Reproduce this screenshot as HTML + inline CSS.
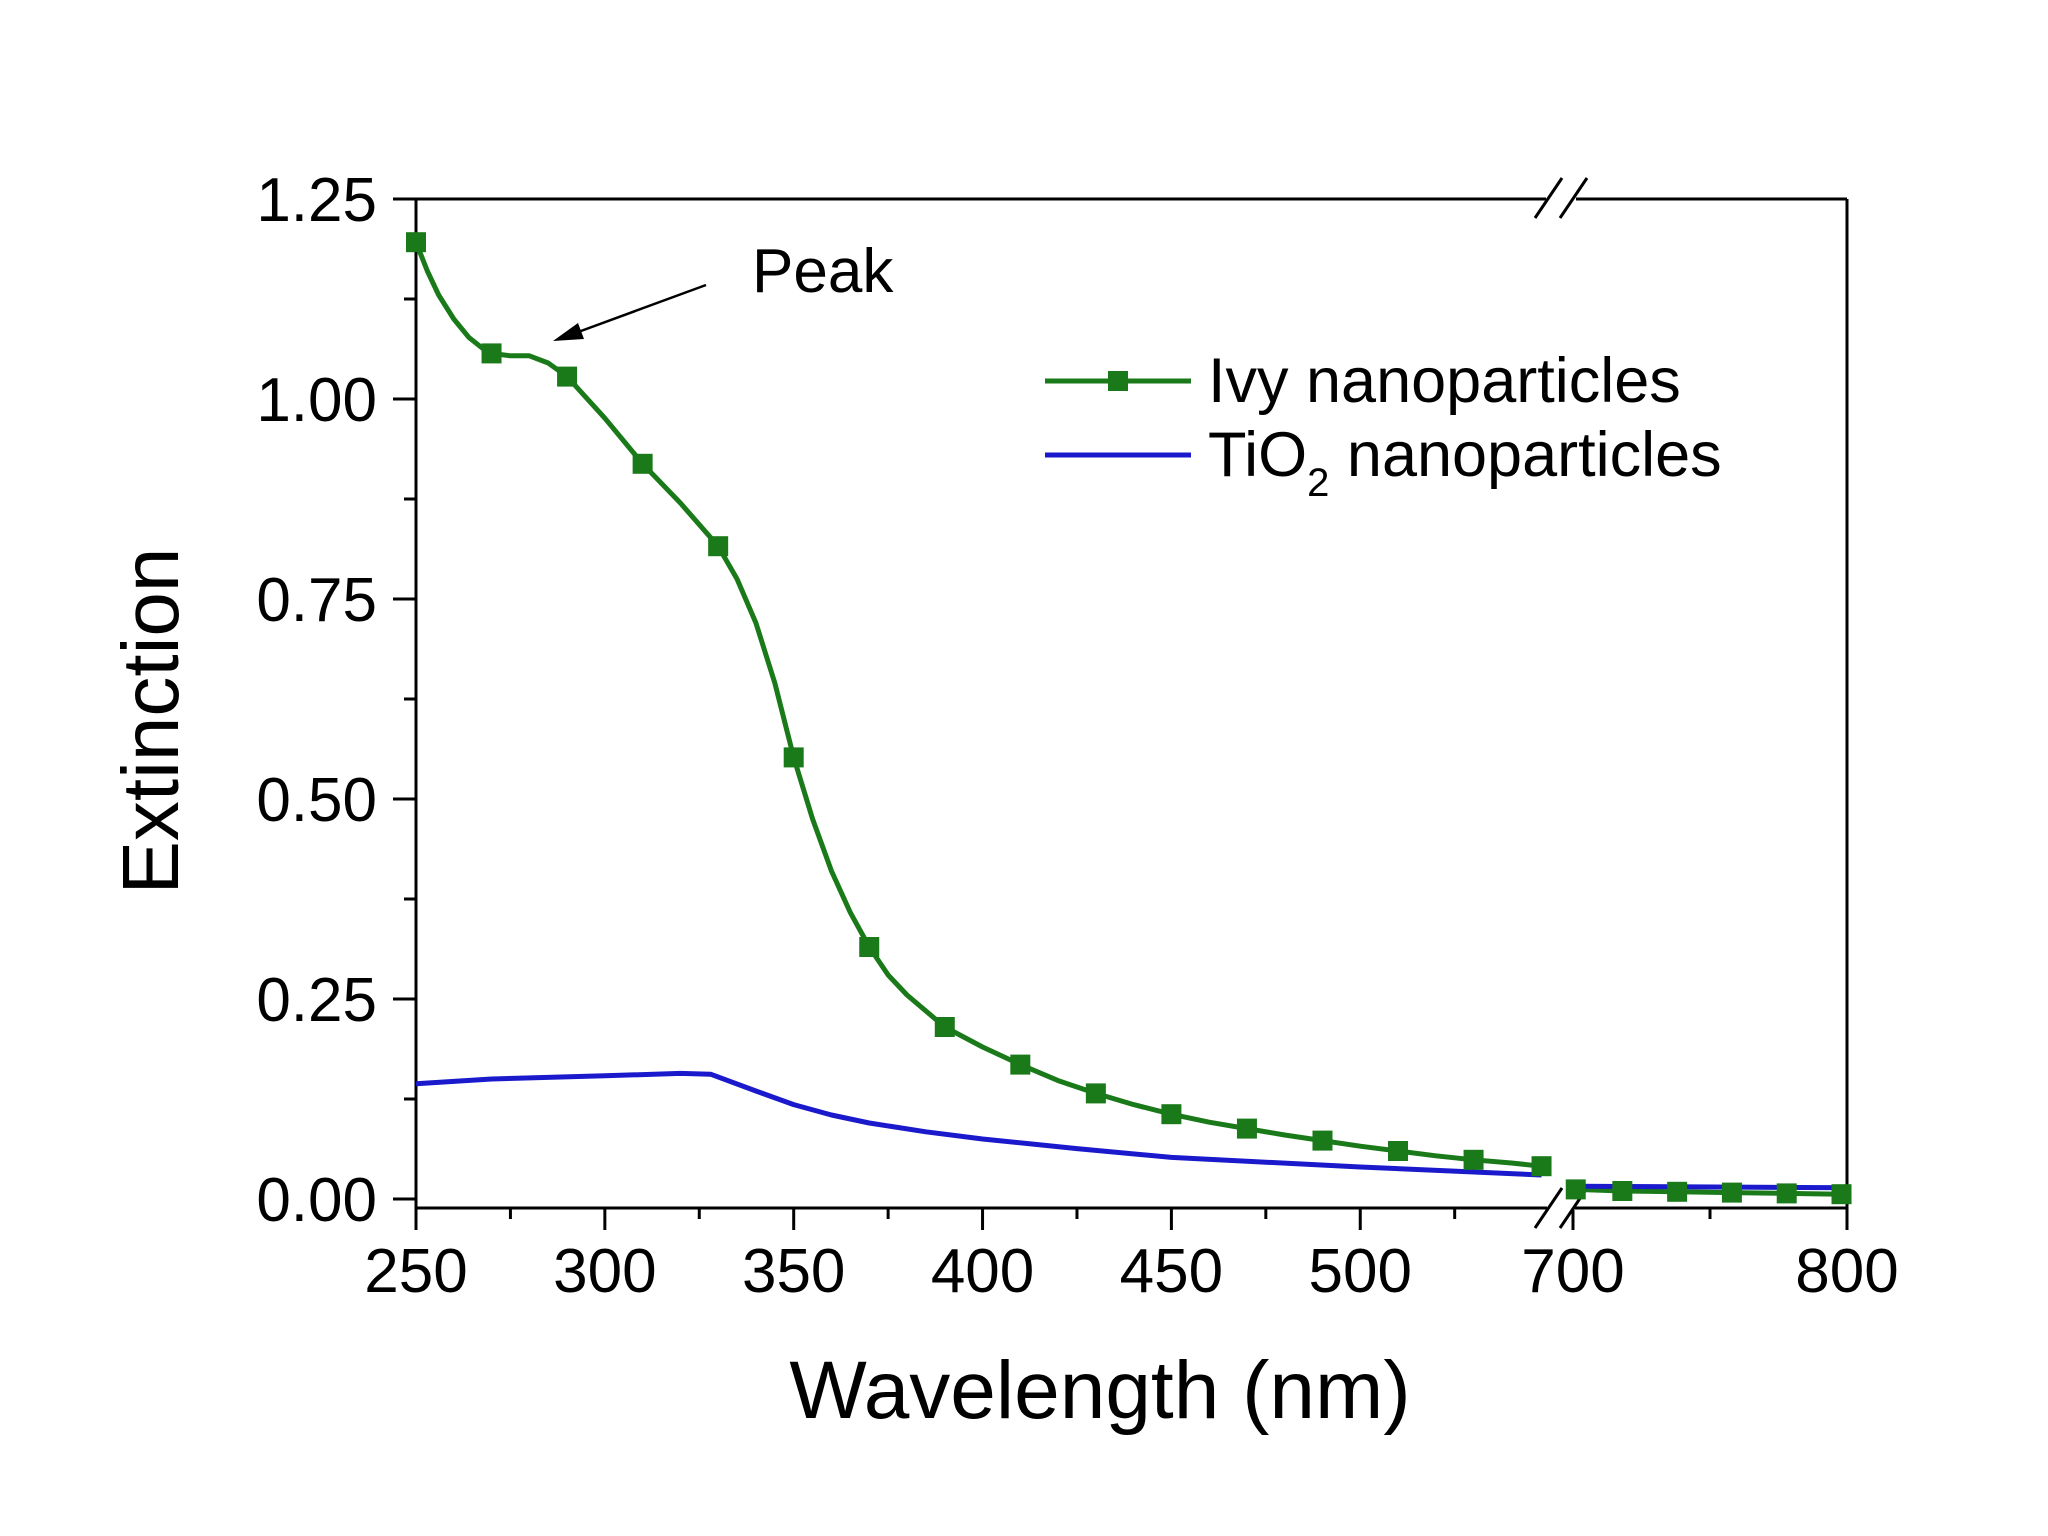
<!DOCTYPE html>
<html><head><meta charset="utf-8"><style>
html,body{margin:0;padding:0;background:#fff}
svg{display:block;font-family:"Liberation Sans",Arial,sans-serif}
</style></head><body>
<svg id="chart" width="2048" height="1536" viewBox="0 0 2048 1536">
<g id="axes"></g>
<g id="series"></g>
<text x="157" y="721" font-size="80" text-anchor="middle" dominant-baseline="middle" transform="rotate(-90 157 721)">Extinction</text>
<text x="1100" y="1418" font-size="82" text-anchor="middle">Wavelength (nm)</text>
<text x="752" y="292" font-size="62">Peak</text>
<g>
<line x1="706" y1="285" x2="570" y2="335" stroke="#000" stroke-width="2.5"/>
<polygon points="553,341 578,323 584,339" fill="#000"/>
</g>
<g>
<g>
<line x1="1045" y1="381" x2="1191" y2="381" stroke="#1a7a1a" stroke-width="5"/>
<rect x="1108" y="371" width="20" height="20" fill="#1a7a1a"/>
<text x="1208" y="402" font-size="63">Ivy nanoparticles</text>
</g>
<g>
<line x1="1045" y1="455" x2="1191" y2="455" stroke="#1a1acc" stroke-width="5"/>
<text x="1208" y="476" font-size="63">TiO<tspan font-size="40" dy="20">2</tspan><tspan dy="-20"> nanoparticles</tspan></text>
</g>
</g>
</svg>
<script>
const ivyX = [250,253,256,260,264,268,270,275,280,285,290,300,310,320,330,335,340,345,350,355,360,365,370,375,380,390,400,410,420,430,440,450,460,470,480,490,500,510,520,530,540,548];
const ivyY = [1.196,1.16,1.13,1.10,1.077,1.062,1.057,1.054,1.054,1.045,1.028,0.976,0.919,0.87,0.816,0.775,0.72,0.645,0.552,0.475,0.41,0.358,0.315,0.28,0.255,0.215,0.19,0.168,0.148,0.132,0.118,0.106,0.096,0.088,0.080,0.073,0.066,0.060,0.054,0.049,0.045,0.041];
const ivyMarkX = [250,270,290,310,330,350,370,390,410,430,450,470,490,510,530,548];
const ivyRX = [701,718,738,758,778,798,800];
const ivyRY = [0.012,0.010,0.009,0.008,0.007,0.006,0.006];
const tioX = [250,270,300,320,328,340,350,360,370,385,400,425,450,500,548];
const tioY = [0.144,0.150,0.154,0.157,0.156,0.135,0.118,0.105,0.095,0.084,0.075,0.063,0.052,0.040,0.030];
const tioRX = [701,800];
const tioRY = [0.016,0.014];
const yTicks = [0,0.25,0.5,0.75,1.0,1.25];
const yLabels = ["0.00","0.25","0.50","0.75","1.00","1.25"];
const xTicksL = [250,300,350,400,450,500];
const xTicksR = [700,800];

const NS="http://www.w3.org/2000/svg";
function xL(v){return 416+(v-250)*3.777;}
function xR(v){return 1573+(v-700)*2.74;}
function xs(v){return v>=650?xR(v):xL(v);}
function ys(v){return 1199-v*800;}
function mk(tag,attrs,parent){const e=document.createElementNS(NS,tag);for(const k in attrs)e.setAttribute(k,attrs[k]);parent.appendChild(e);return e;}
const axes=document.getElementById('axes'),ser=document.getElementById('series');
const K={stroke:'#000','stroke-width':3};
let e;
e=mk('line',Object.assign({x1:416,y1:199,x2:416,y2:1208},K),axes);
e=mk('line',Object.assign({x1:416,y1:1208,x2:1547,y2:1208},K),axes);
e=mk('line',Object.assign({x1:1575,y1:1208,x2:1847,y2:1208},K),axes);
e=mk('line',Object.assign({x1:416,y1:199,x2:1546,y2:199},K),axes);
e=mk('line',Object.assign({x1:1576,y1:199,x2:1847,y2:199},K),axes);
e=mk('line',Object.assign({x1:1847,y1:199,x2:1847,y2:1208},K),axes);
[[1535,218,1562,178],[1560,218,1587,178],[1535,1228,1562,1188],[1560,1228,1587,1188]].forEach(p=>{
 const b=mk('line',{x1:p[0],y1:p[1],x2:p[2],y2:p[3],stroke:'#000','stroke-width':3},axes);
 
 
});
yTicks.forEach((v,i)=>{
 const t=mk('line',{x1:393,y1:ys(v),x2:416,y2:ys(v),stroke:'#000','stroke-width':3},axes);
 
 
 if(i<yTicks.length-1){const m=mk('line',{x1:404,y1:ys(v+0.125),x2:416,y2:ys(v+0.125),stroke:'#000','stroke-width':3},axes);
 
 }
 const l=mk('text',{x:377,y:ys(v)+22,'font-size':62,'text-anchor':'end'},axes);l.textContent=yLabels[i];
 
 
});
xTicksL.forEach(v=>{
 const t=mk('line',{x1:xL(v),y1:1208,x2:xL(v),y2:1230,stroke:'#000','stroke-width':3},axes);
 
 
 const m=mk('line',{x1:xL(v+25),y1:1208,x2:xL(v+25),y2:1219,stroke:'#000','stroke-width':3},axes);
 
 
 const l=mk('text',{x:xL(v),y:1292,'font-size':62,'text-anchor':'middle'},axes);l.textContent=v;
 
 
});
xTicksR.forEach(v=>{
 const t=mk('line',{x1:xR(v),y1:1208,x2:xR(v),y2:1230,stroke:'#000','stroke-width':3},axes);
 
 
 const l=mk('text',{x:xR(v),y:1292,'font-size':62,'text-anchor':'middle'},axes);l.textContent=v;
 
 
});
e=mk('line',{x1:xR(750),y1:1208,x2:xR(750),y2:1219,stroke:'#000','stroke-width':3},axes);


function poly(X,Y,color,name){
 const p=mk('polyline',{points:X.map((x,i)=>xs(x)+','+ys(Y[i])).join(' '),fill:'none',stroke:color,'stroke-width':5,'stroke-linejoin':'round'},ser);
 
 
}
function interp(X,Y,x){for(let i=0;i<X.length-1;i++){if(x>=X[i]&&x<=X[i+1]){return Y[i]+(Y[i+1]-Y[i])*(x-X[i])/(X[i+1]-X[i]);}}return Y[Y.length-1];}
poly(ivyX,ivyY,'#1a7a1a','ivy-line-left');
poly(ivyRX,ivyRY,'#1a7a1a','ivy-line-right');
poly(tioX,tioY,'#1a1acc','tio2-line-left');
poly(tioRX,tioRY,'#1a1acc','tio2-line-right');
ivyMarkX.forEach(x=>{
 const r=mk('rect',{x:xs(x)-10,y:ys(interp(ivyX,ivyY,x))-10,width:20,height:20,fill:'#1a7a1a'},ser);
 
 
});
ivyRX.slice(0,-1).forEach(x=>{
 const r=mk('rect',{x:xR(x)-10,y:ys(interp(ivyRX,ivyRY,x))-10,width:20,height:20,fill:'#1a7a1a'},ser);
 
 
});
</script>
</body></html>
